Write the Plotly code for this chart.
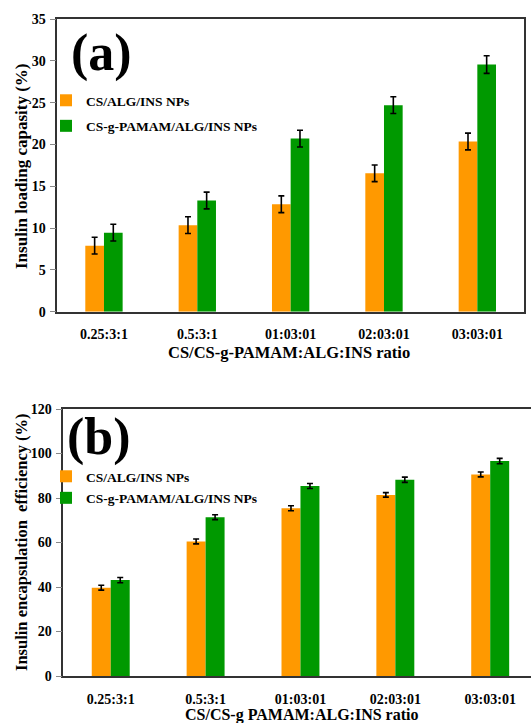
import plotly.graph_objects as go

# ---------------- data ----------------
categories = ["0.25:3:1", "0.5:3:1", "01:03:01", "02:03:01", "03:03:01"]
series_names = ["CS/ALG/INS NPs", "CS-g-PAMAM/ALG/INS NPs"]

loading_cs = [7.9, 10.35, 12.85, 16.55, 20.35]
loading_cs_err = [1.0, 1.0, 1.0, 1.0, 1.0]
loading_pamam = [9.45, 13.3, 20.7, 24.7, 29.55]
loading_pamam_err = [1.0, 1.0, 1.0, 1.0, 1.05]

encap_cs = [39.7, 60.5, 75.4, 81.4, 90.6]
encap_cs_err = [1.1, 1.1, 1.1, 1.0, 1.1]
encap_pamam = [43.1, 71.4, 85.4, 88.2, 96.6]
encap_pamam_err = [1.2, 1.1, 1.1, 1.2, 1.2]

y_ticks_a = [0, 5, 10, 15, 20, 25, 30, 35]
y_ticks_b = [0, 20, 40, 60, 80, 100, 120]

# ---------------- styles ----------------
W, H = 531, 723
ORANGE = "#FF9900"
GREEN = "#009900"
FONT = "Liberation Serif"
AXCOL = "#333333"


def px(x):
    return x / W


def py(y):
    return 1 - y / H


fig = go.Figure()

err_style = dict(type="data", color="black", thickness=1.6, width=3)

fig.add_trace(go.Bar(x=categories, y=loading_cs, name=series_names[0],
                     marker=dict(color=ORANGE, line=dict(width=0)),
                     error_y=dict(array=loading_cs_err, **err_style),
                     xaxis="x", yaxis="y", legend="legend", legendgroup="a1"))
fig.add_trace(go.Bar(x=categories, y=loading_pamam, name=series_names[1],
                     marker=dict(color=GREEN, line=dict(width=0)),
                     error_y=dict(array=loading_pamam_err, **err_style),
                     xaxis="x", yaxis="y", legend="legend", legendgroup="a2"))
fig.add_trace(go.Bar(x=categories, y=encap_cs, name=series_names[0],
                     marker=dict(color=ORANGE, line=dict(width=0)),
                     error_y=dict(array=encap_cs_err, **err_style),
                     xaxis="x2", yaxis="y2", legend="legend2", legendgroup="b1"))
fig.add_trace(go.Bar(x=categories, y=encap_pamam, name=series_names[1],
                     marker=dict(color=GREEN, line=dict(width=0)),
                     error_y=dict(array=encap_pamam_err, **err_style),
                     xaxis="x2", yaxis="y2", legend="legend2", legendgroup="b2"))

tickfont = dict(family=FONT, size=14, color="black", weight="bold")

xa = dict(type="category", showline=True, linecolor=AXCOL, linewidth=1.5,
          ticks="", showgrid=False, tickfont=tickfont, zeroline=False,
          automargin=False, ticklabelstandoff=9)
ya = dict(showline=True, linecolor=AXCOL, linewidth=1.5, ticks="outside",
          ticklen=6, tickwidth=1, tickcolor="#888888", showgrid=False,
          zeroline=False, tickfont=tickfont, ticklabelstandoff=1,
          automargin=False)

fig.update_layout(
    width=W, height=H,
    margin=dict(l=0, r=0, t=0, b=0, autoexpand=False),
    paper_bgcolor="white", plot_bgcolor="white",
    barmode="group", bargap=0.6, bargroupgap=0,
    xaxis=dict(xa, domain=[px(57.3), px(524)], anchor="y", mirror=True,
               range=[-0.5, 4.5]),
    yaxis=dict(ya, domain=[py(311.7), py(19)], anchor="x", mirror=True,
               range=[0, 35], tickvals=y_ticks_a),
    xaxis2=dict(xa, domain=[px(63.3), 1.0], anchor="y2", mirror=True,
                range=[-0.5, 4.43]),
    yaxis2=dict(ya, domain=[py(676), py(409)], anchor="x2", mirror=False,
                range=[0, 120], tickvals=y_ticks_b),
    legend=dict(x=px(46), y=py(85), xanchor="left", yanchor="top",
                bgcolor="rgba(0,0,0,0)", tracegroupgap=5,
                font=dict(family=FONT, size=13.5, color="black", weight="bold")),
    legend2=dict(x=px(46), y=py(461), xanchor="left", yanchor="top",
                 bgcolor="rgba(0,0,0,0)", tracegroupgap=1,
                 font=dict(family=FONT, size=13.5, color="black", weight="bold")),
    showlegend=True,
)

ann_font = dict(family=FONT, color="black", weight="bold")
fig.add_annotation(text="(a)", xref="paper", yref="paper", x=px(101), y=py(53),
                   xanchor="center", yanchor="middle", showarrow=False,
                   font=dict(ann_font, size=52))
fig.add_annotation(text="(b)", xref="paper", yref="paper", x=px(99), y=py(437),
                   xanchor="center", yanchor="middle", showarrow=False,
                   font=dict(ann_font, size=52))
fig.add_annotation(text="Insulin loading capasity (%)", xref="paper", yref="paper",
                   x=px(21), y=py(167), textangle=-90, showarrow=False,
                   xanchor="center", yanchor="middle", font=dict(ann_font, size=17))
fig.add_annotation(text="Insulin encapsulation&nbsp; efficiency (%)", xref="paper",
                   yref="paper", x=px(21), y=py(542), textangle=-90, showarrow=False,
                   xanchor="center", yanchor="middle", font=dict(ann_font, size=16.5))
fig.add_annotation(text="CS/CS-g-PAMAM:ALG:INS ratio", xref="paper", yref="paper",
                   x=px(289), y=py(352), showarrow=False,
                   xanchor="center", yanchor="middle", font=dict(ann_font, size=16.5))
fig.add_annotation(text="CS/CS-g PAMAM:ALG:INS ratio", xref="paper", yref="paper",
                   x=px(301), y=py(715), showarrow=False,
                   xanchor="center", yanchor="middle", font=dict(ann_font, size=16))

fig.write_html("out.html",
               config={"displayModeBar": False},
               post_script="document.body.style.margin='0';"
                           "document.body.style.padding='0';")
